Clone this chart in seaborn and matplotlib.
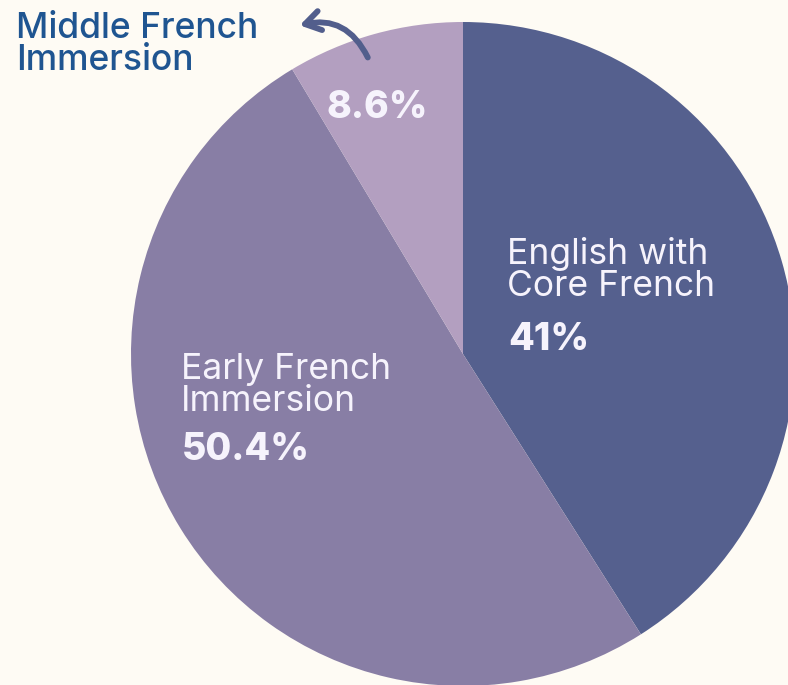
import matplotlib.pyplot as plt
import seaborn as sns
from matplotlib.patches import FancyArrowPatch

# programme shares, clockwise from 12 o'clock
programmes = ["English with\nCore French", "Early French\nImmersion", "Middle French\nImmersion"]
shares = [41.0, 50.4, 8.6]
share_labels = ["41%", "50.4%", "8.6%"]
slice_colours = ["#55608e", "#887ea5", "#b39fc0"]

BG = "#fefbf4"
TXT_LIGHT = "#f6f3fc"
TXT_DARK = "#1f5591"

sns.set_theme(style="white")
plt.rcParams["font.family"] = ["Inter", "DejaVu Sans"]

fig = plt.figure(figsize=(7.88, 6.85), dpi=100, facecolor=BG)
ax = fig.add_axes([0, 0, 1, 1])
ax.set_facecolor(BG)

# work in pixel coordinates (y up)
ax.pie(
    shares,
    colors=slice_colours,
    startangle=90,
    counterclock=False,
    center=(463, 331),
    radius=332,
    wedgeprops=dict(linewidth=0),
)
ax.set_xlim(0, 788)
ax.set_ylim(0, 685)
ax.set_aspect("equal")
ax.axis("off")

LBL = 25.5
PCT = 27

# in-slice labels
ax.text(507, 685 - 296, programmes[0], color=TXT_LIGHT, fontsize=LBL,
        ha="left", va="baseline", linespacing=0.95)
ax.text(508, 685 - 350, share_labels[0], color=TXT_LIGHT, fontsize=PCT,
        fontweight="heavy", ha="left", va="baseline")

ax.text(181, 685 - 411, programmes[1], color=TXT_LIGHT, fontsize=LBL,
        ha="left", va="baseline", linespacing=0.95)
ax.text(182, 685 - 460, share_labels[1], color=TXT_LIGHT, fontsize=PCT,
        fontweight="heavy", ha="left", va="baseline")

ax.text(327, 685 - 118, share_labels[2], color=TXT_LIGHT, fontsize=PCT,
        fontweight="heavy", ha="left", va="baseline")

# outside label + arrow for the small slice
ax.text(16, 685 - 70, programmes[2], color=TXT_DARK, fontsize=LBL,
        fontweight="medium", ha="left", va="baseline", linespacing=0.95)
arrow = FancyArrowPatch(
    (369, 685 - 60), (297, 685 - 26),
    connectionstyle="arc3,rad=0.42",
    arrowstyle="->,head_length=11,head_width=7",
    color="#525e8c", linewidth=4.2, capstyle="round", joinstyle="round",
)
ax.add_patch(arrow)

fig.savefig("out.png", dpi=100, facecolor=BG)
